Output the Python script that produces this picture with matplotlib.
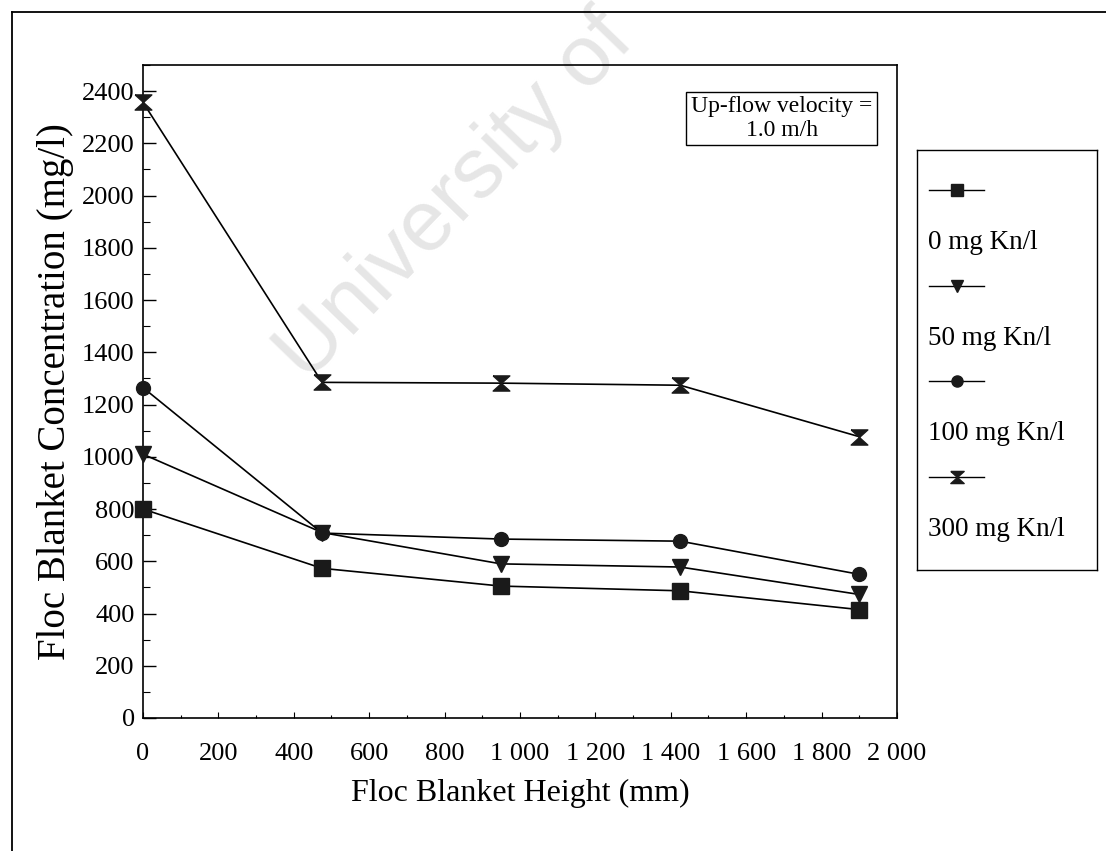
import matplotlib
matplotlib.use("Agg")
import matplotlib.pyplot as plt
from matplotlib.lines import Line2D
from matplotlib.ticker import MultipleLocator, FuncFormatter

# Floc blanket concentration profiles at 1.0 m/h up-flow
height_mm = [0, 475, 950, 1425, 1900]
conc_0 = [800, 573, 505, 487, 415]
conc_50 = [1010, 710, 590, 578, 473]
conc_100 = [1265, 708, 685, 677, 550]
conc_300 = [2357, 1285, 1282, 1274, 1077]

series_labels = ["0 mg Kn/l", "50 mg Kn/l", "100 mg Kn/l", "300 mg Kn/l"]

plt.rcParams["font.family"] = ["Liberation Serif", "DejaVu Serif"]

# hourglass marker used for the 300 mg series
hourglass = [(-1.1, 1), (1.1, 1), (0, 0), (1.1, -1), (-1.1, -1), (0, 0), (-1.1, 1)]
markers = ["s", "v", "o", hourglass]
msizes = [11, 11, 10, 12]
ink = "#1a1a1a"

fig = plt.figure(figsize=(11.06, 8.51), dpi=100)

# outer frame of the figure panel
frame = fig.add_axes([0.011, -0.05, 1.2, 1.036])
frame.set_xticks([])
frame.set_yticks([])
for s in frame.spines.values():
    s.set_linewidth(1.3)
frame.patch.set_alpha(0)

# faint watermark, kept under the chart lines
fig.text(0.412, 0.768, "University of", rotation=46, fontsize=62,
         family="Liberation Sans", color="#e6e6e6", ha="center", va="center",
         zorder=-1)

ax = fig.add_axes([0.1293, 0.1563, 0.6817, 0.7673])
ax.patch.set_alpha(0)
all_series = [conc_0, conc_50, conc_100, conc_300]
for vals, mk, ms, lab in zip(all_series, markers, msizes, series_labels):
    ax.plot(height_mm, vals, color="black", lw=1.2, marker=mk,
            markersize=ms, markerfacecolor=ink, markeredgecolor=ink,
            label=lab, clip_on=False, zorder=3)

ax.set_xlim(0, 2000)
ax.set_ylim(0, 2500)
ax.xaxis.set_major_locator(MultipleLocator(200))
ax.xaxis.set_minor_locator(MultipleLocator(100))
ax.yaxis.set_minor_locator(MultipleLocator(100))
ax.set_yticks(range(0, 2401, 200))
ax.xaxis.set_major_formatter(FuncFormatter(lambda v, p: f"{int(v):,}".replace(",", " ")))
ax.tick_params(axis="both", which="both", direction="in", labelsize=19)
ax.tick_params(axis="y", which="major", length=9, width=1, pad=6)
ax.tick_params(axis="y", which="minor", length=5, width=0.8)
ax.tick_params(axis="x", which="major", length=4, width=0.8, pad=18)
ax.tick_params(axis="x", which="minor", length=2, width=0.8)
for s in ax.spines.values():
    s.set_linewidth(1.2)

ax.set_xlabel("Floc Blanket Height (mm)", fontsize=23, labelpad=10)
ax.set_ylabel("Floc Blanket Concentration (mg/l)", fontsize=28, labelpad=6)

# condition note inside the plot
ax.text(0.847, 0.918, "Up-flow velocity =\n1.0 m/h", transform=ax.transAxes,
        ha="center", va="center", fontsize=17, linespacing=1.15,
        bbox=dict(boxstyle="square,pad=0.2", facecolor="white",
                  edgecolor="black", linewidth=1.0))

# legend panel: sample line above each label
lax = fig.add_axes([0.829, 0.330, 0.163, 0.494])
lax.set_xlim(0, 1)
lax.set_ylim(0, 1)
lax.set_xticks([])
lax.set_yticks([])
for s in lax.spines.values():
    s.set_linewidth(1.0)
for i, (mk, ms, lab) in enumerate(zip(markers, msizes, series_labels)):
    y_line = 0.905 - i * 0.228
    lax.add_line(Line2D([0.07, 0.22, 0.37], [y_line] * 3, color="black", lw=1.0,
                        marker=mk, markevery=[1], markersize=ms * 0.8,
                        markerfacecolor=ink, markeredgecolor=ink))
    lax.text(0.06, y_line - 0.125, lab, fontsize=19.5, ha="left", va="center")

fig.savefig("out.png", dpi=100)
